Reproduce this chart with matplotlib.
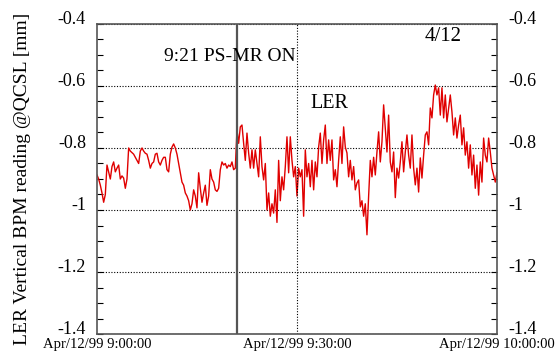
import numpy as np
import matplotlib
matplotlib.use('Agg')
import matplotlib.pyplot as plt
from matplotlib.ticker import MultipleLocator, FixedLocator, FuncFormatter

# BPM reading sampled every 15 s from 9:00:00 (values in mm)
bpm_values = [
    -0.887, -0.90, -0.92, -0.945, -0.975, -0.95, -0.855, -0.877, -0.90, -0.86,
    -0.845, -0.877, -0.865, -0.855, -0.90, -0.89, -0.897, -0.93, -0.90, -0.80,
    -0.81, -0.815, -0.82, -0.83, -0.84, -0.85, -0.81, -0.80, -0.81, -0.817,
    -0.82, -0.84, -0.865, -0.85, -0.845, -0.82, -0.817, -0.845, -0.855, -0.84,
    -0.83, -0.83, -0.87, -0.877, -0.82,
    -0.797, -0.787, -0.80, -0.82, -0.85, -0.88, -0.91, -0.92, -0.945, -0.955,
    -0.97, -1.0, -0.98, -0.935, -0.955, -0.993, -0.88, -0.93, -0.975, -0.945,
    -0.92, -0.985, -0.955, -0.87, -0.90, -0.91, -0.935, -0.94, -0.93, -0.87,
    -0.845, -0.855, -0.85, -0.865, -0.855, -0.86, -0.845, -0.87, -0.865,
    -0.742, -0.785, -0.732, -0.726, -0.785, -0.84, -0.752, -0.816, -0.865, -0.806,
    -0.865, -0.806, -0.85, -0.893, -0.764, -0.86, -0.903, -0.85, -1.0, -0.945,
    -1.02, -0.98, -1.01, -0.935, -1.04, -0.84, -0.97, -0.893, -0.935, -0.86,
    -0.764, -0.88, -0.764, -0.84, -0.893, -0.86, -0.955, -0.865, -0.893, -0.87,
    -1.02,
    -0.806, -0.893, -0.85, -0.925, -0.84, -0.935, -0.845, -0.893, -0.797, -0.752,
    -0.85, -0.774, -0.726, -0.85, -0.774, -0.84, -0.774, -0.903, -0.87, -0.925,
    -0.84, -0.764, -0.85, -0.732, -0.797, -0.816, -0.893, -0.84, -0.903, -0.86,
    -0.935, -0.913, -0.903, -0.99, -0.97, -1.02, -0.98, -1.08, -0.955, -0.84,
    -0.893, -0.83,
    -0.887, -0.813, -0.748, -0.845, -0.78, -0.661, -0.735, -0.813, -0.694, -0.845,
    -0.877, -0.813, -0.96, -0.865, -0.897, -0.845, -0.78, -0.877, -0.813, -0.758,
    -0.823, -0.865, -0.758, -0.865, -0.919, -0.865, -0.942, -0.832, -0.897, -0.823,
    -0.758, -0.748, -0.790, -0.671, -0.703, -0.629, -0.597, -0.629, -0.606, -0.694,
    -0.606, -0.703,
    -0.629, -0.716, -0.671, -0.629, -0.684, -0.758, -0.703, -0.768, -0.726, -0.694,
    -0.790, -0.735, -0.823, -0.78, -0.865, -0.790, -0.887, -0.823, -0.93, -0.855,
    -0.952, -0.845, -0.910, -0.768, -0.823, -0.845, -0.768, -0.813, -0.865, -0.887,
    -0.91, -0.88,
]
minutes = np.arange(len(bpm_values)) * 0.25

event_min = 21
xtick_min = [0, 30, 60]
xtick_labels = ['Apr/12/99 9:00:00', 'Apr/12/99 9:30:00', 'Apr/12/99 10:00:00']

serif = 'Liberation Serif'

fig = plt.figure(figsize=(5.59, 3.52), dpi=100)
ax = fig.add_axes([0.1735, 0.051, 0.7155, 0.881])

ax.plot(minutes, bpm_values, color='#e00000', lw=1.0)
ax.axvline(event_min, color='#555555', lw=1.6)

ax.set_xlim(0, 60)
ax.set_ylim(-1.4, -0.4)

ax.yaxis.set_major_locator(MultipleLocator(0.2))
ax.yaxis.set_minor_locator(MultipleLocator(0.05))
ax.yaxis.set_major_formatter(FuncFormatter(lambda v, p: f'{v:g}'))
ax.xaxis.set_major_locator(FixedLocator(xtick_min))
ax.set_xticklabels(xtick_labels)

ax.tick_params(axis='y', which='both', direction='in', left=True, right=True,
               labelleft=True, labelright=True, length=4, width=0.8, pad=8,
               labelsize=13)
ax.tick_params(axis='x', length=0, labelsize=10.5, pad=3)
for lab in ax.get_xticklabels() + ax.get_yticklabels():
    lab.set_fontfamily(serif)
for t in ax.yaxis.get_major_ticks():
    t.label1.set_va('baseline')
    t.label2.set_va('baseline')

ax.grid(True, which='major', axis='y', color='black', linestyle=(0, (1, 1.5)), lw=0.8)
ax.axvline(30, color='black', linestyle=(0, (1, 1.5)), lw=0.8)

for s in ax.spines.values():
    s.set_color('#555555')
    s.set_linewidth(1.2)

ax.set_ylabel('LER Vertical BPM reading @QCSL [mm]', fontfamily=serif, fontsize=14)
ax.yaxis.set_label_coords(-0.165, 0.5)

ax.text(10, -0.506, '9:21 PS-MR ON', fontfamily=serif, fontsize=14, va='center')
ax.text(32, -0.655, 'LER', fontfamily=serif, fontsize=14.5, va='center')
ax.text(49.2, -0.442, '4/12', fontfamily=serif, fontsize=15, va='center')

fig.savefig('out.png', dpi=100)
